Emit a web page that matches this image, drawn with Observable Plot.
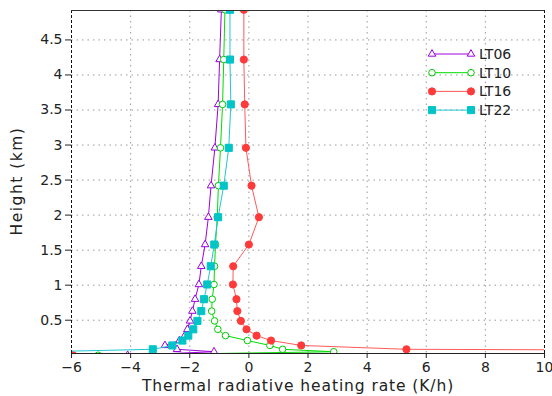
<!DOCTYPE html>
<html><head>
<meta charset="utf-8">
<script src="https://cdn.jsdelivr.net/npm/d3@7"></script>
<script src="https://cdn.jsdelivr.net/npm/@observablehq/plot@0.6"></script>
<style>body{margin:0;background:#fff} svg{display:block}</style>
</head><body><div id="chart"></div>
<script>
// model levels (km)
const heights = [0.0,0.05,0.085,0.14,0.21,0.28,0.37,0.49,0.63,0.80,1.01,1.27,1.58,1.97,2.42,2.96,3.58,4.22,4.93];
// heating rates (K/h) per local time
const lt06 = [-4.1,-1.18,-2.43,-2.84,-2.35,-2.17,-2.08,-1.99,-1.91,-1.82,-1.69,-1.61,-1.48,-1.37,-1.28,-1.15,-1.04,-0.99,-0.93];
const lt10 = [-5.1,2.87,1.14,0.71,-0.05,-0.79,-1.05,-1.16,-1.26,-1.24,-1.18,-1.16,-1.13,-1.07,-1.03,-0.96,-0.89,-0.85,-0.81];
const lt16 = [-5.95,30,5.33,1.77,0.75,0.26,-0.08,-0.27,-0.39,-0.42,-0.54,-0.53,0.0,0.34,0.09,-0.10,-0.14,-0.17,-0.17];
const lt22 = [-8,-7,-3.25,-2.59,-2.25,-2.05,-1.88,-1.74,-1.61,-1.52,-1.41,-1.29,-1.17,-1.04,-0.85,-0.68,-0.61,-0.64,-0.64];
const seriesNames = ["LT06","LT10","LT16","LT22"];
const xTicks = [-6,-4,-2,0,2,4,6,8,10];
const yTicks = [0.5,1,1.5,2,2.5,3,3.5,4,4.5];
const xDomain = [-6, 10];
const yDomain = [0.025, 4.92];
const xLabel = "Thermal radiative heating rate (K/h)";
const yLabel = "Height (km)";

const styles = {
  LT06: {values: lt06, line: "#a000e0", stroke: "#9900dd", fill: "white", symbol: "triangle", r: 2.8},
  LT10: {values: lt10, line: "#00dd00", stroke: "#00cc00", fill: "white", symbol: "circle", r: 3.3},
  LT16: {values: lt16, line: "#ff5a5a", stroke: "#ff3a3a", fill: "#ff3a3a", symbol: "circle", r: 3.6},
  LT22: {values: lt22, line: "#20c8d0", stroke: "#00c4c8", fill: "#00c4c8", symbol: "square", r: 4.0}
};
const rows = seriesNames.flatMap(s => heights.map((h, i) => ({series: s, h, v: styles[s].values[i]})));

const marks = [
  Plot.gridX(xTicks.filter(t => t > xDomain[0] && t < xDomain[1]), {stroke: "#9a9a9a", strokeOpacity: 1, strokeDasharray: "1.5,4"}),
  Plot.gridY(yTicks, {stroke: "#9a9a9a", strokeOpacity: 1, strokeDasharray: "1.5,4"})
];
for (const s of seriesNames) {
  const st = styles[s];
  const d = rows.filter(r => r.series === s);
  marks.push(Plot.line(d, {x: "v", y: "h", stroke: st.line, strokeWidth: 1, clip: true}));
  marks.push(Plot.dot(d, {x: "v", y: "h", symbol: st.symbol, r: st.r, stroke: st.stroke, fill: st.fill, strokeWidth: 1, clip: true}));
}
marks.push(
  Plot.ruleX(xDomain, {stroke: "#111", strokeDasharray: "3,2"}),
  Plot.ruleY([yDomain[1]], {stroke: "#333", strokeWidth: 1.2}),
  Plot.ruleY([yDomain[0]], {stroke: "#222", strokeWidth: 1}),
  Plot.axisX({ticks: xTicks, tickSize: 5, tickPadding: 4, fontSize: 14, label: null, stroke: "#222"}),
  Plot.axisY({ticks: yTicks, tickSize: 6, tickPadding: 3, fontSize: 14, label: null, stroke: "#222", tickFormat: d => String(d)})
);

const plot = Plot.plot({
  width: 552, height: 396,
  marginLeft: 71, marginRight: 8, marginTop: 10, marginBottom: 43,
  x: {domain: xDomain},
  y: {domain: yDomain},
  style: {fontFamily: "DejaVu Sans", fontSize: "14px", color: "#222", background: "white"},
  marks
});
document.getElementById("chart").appendChild(plot);

const svg = d3.select(plot);
svg.append("text").attr("x", 298).attr("y", 391).attr("text-anchor", "middle")
  .attr("font-size", 15.5).attr("letter-spacing", "0.9px").attr("fill", "#222").text(xLabel);
svg.append("text").attr("transform", "translate(22,181) rotate(-90)").attr("text-anchor", "middle")
  .attr("font-size", 15.5).attr("letter-spacing", "1.5px").attr("fill", "#222").text(yLabel);

// legend
const lg = svg.append("g");
seriesNames.forEach((s, i) => {
  const st = styles[s];
  const y = 54 + i * 18.7;
  lg.append("line").attr("x1", 432).attr("x2", 471).attr("y1", y).attr("y2", y)
    .attr("stroke", st.line).attr("stroke-width", 1);
  const sym = {triangle: d3.symbolTriangle, circle: d3.symbolCircle, square: d3.symbolSquare}[st.symbol];
  for (const x of [432, 471]) {
    lg.append("path").attr("d", d3.symbol(sym, st.r * st.r * Math.PI)())
      .attr("transform", `translate(${x},${y})`)
      .attr("stroke", st.stroke).attr("fill", st.fill).attr("stroke-width", 1);
  }
  lg.append("text").attr("x", 479).attr("y", y + 5).attr("text-anchor", "start")
    .attr("font-size", 14).attr("fill", "#222").text(s);
});
</script>
</body></html>
